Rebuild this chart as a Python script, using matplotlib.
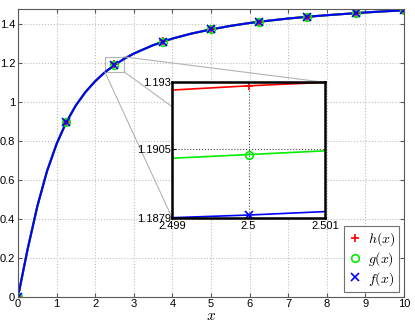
import numpy as np
import matplotlib.pyplot as plt
from matplotlib.patches import Rectangle
from matplotlib.lines import Line2D

plt.rcParams['font.family'] = ['Liberation Sans', 'DejaVu Sans']
plt.rcParams['mathtext.fontset'] = 'cm'

# curve (h, g, f overlap within a pixel)
curve_x = [0, 0.25, 0.5, 0.75, 1, 1.25, 1.5, 1.75, 2, 2.25, 2.5, 2.75, 3, 3.5, 4,
           4.5, 5, 5.5, 6, 6.5, 7, 7.5, 8, 8.5, 9, 9.5, 10]
curve_y = [0, 0.245, 0.464, 0.644, 0.785, 0.896, 0.983, 1.052, 1.107, 1.153, 1.190,
           1.222, 1.249, 1.292, 1.326, 1.352, 1.373, 1.391, 1.406, 1.418, 1.429,
           1.438, 1.446, 1.453, 1.460, 1.466, 1.471]

# markers
mk_x = [0, 1.25, 2.5, 3.75, 5, 6.25, 7.5, 8.75, 10]
h_mk = [0, 0.897, 1.193, 1.311, 1.374, 1.413, 1.439, 1.458, 1.472]
g_mk = [0, 0.896, 1.190, 1.310, 1.373, 1.412, 1.438, 1.457, 1.471]
f_mk = [0, 0.896, 1.188, 1.309, 1.373, 1.412, 1.438, 1.457, 1.471]

# zoomed region
in_x = [2.499, 2.5, 2.501]
h_in = [1.19271, 1.19287, 1.19300]
g_in = [1.19014, 1.19028, 1.19042]
f_in = [1.18790, 1.18800, 1.18813]
in_xticks = [2.499, 2.5, 2.501]
in_yticks = [1.1879, 1.1905, 1.193]

fig = plt.figure(figsize=(4.15, 3.23), dpi=100)
ax = fig.add_axes([0.0434, 0.0814, 0.930, 0.892])

styles = [('r', '+', h_mk, h_in, '$h(x)$'),
          ('#00ee00', 'o', g_mk, g_in, '$g(x)$'),
          ('b', 'x', f_mk, f_in, '$f(x)$')]
MS = 5.5

for c, m, mk, _, lab in styles:
    ax.plot(curve_x, curve_y, color=c, lw=1.5)
for c, m, mk, _, lab in styles:
    ax.plot(mk_x, mk, ls='none', marker=m, color=c, ms=MS, mfc='none', mew=1.2)

ax.set_xlim(0, 10)
ax.set_ylim(0, 1.48)
ax.set_xticks(range(11))
ax.set_yticks([0, 0.2, 0.4, 0.6, 0.8, 1, 1.2, 1.4])
ax.set_yticklabels(['0', '0.2', '0.4', '0.6', '0.8', '1', '1.2', '1.4'])
ax.tick_params(direction='in', top=True, right=True, labelsize=8, length=3,
               color='0.35', pad=2)
for s in ax.spines.values():
    s.set_color('0.35')
ax.grid(True, ls=':', color='0.75', lw=0.8)
ax.set_xlabel('$x$', fontsize=11, labelpad=0)

handles = [Line2D([], [], ls='none', marker=m, color=c, ms=MS, mfc='none', mew=1.2)
           for c, m, _, _, _ in styles]
leg = ax.legend(handles, [s[4] for s in styles], loc='lower right', fontsize=10,
                frameon=True, fancybox=False, borderaxespad=0.35, handletextpad=0.4,
                labelspacing=0.15, handlelength=1.0, borderpad=0.3)
leg.get_frame().set_edgecolor('0.3')
leg.get_frame().set_linewidth(0.8)

# zoom box on main axes
bx0, bx1, by0, by1 = 2.25, 2.75, 1.155, 1.232
ax.add_patch(Rectangle((bx0, by0), bx1 - bx0, by1 - by0, fill=False,
                       ec='0.7', lw=0.8, zorder=1))

inset_pos = [0.4145, 0.326, 0.3687, 0.419]
ins = fig.add_axes(inset_pos)

# connector lines, drawn in figure coords behind inset
def to_fig(x, y):
    return fig.transFigure.inverted().transform(ax.transData.transform((x, y)))

corners_box = [(bx1, by1), (bx1, by0), (bx0, by0)]
corners_in = [(inset_pos[0] + inset_pos[2], inset_pos[1] + inset_pos[3]),
              (inset_pos[0] + inset_pos[2], inset_pos[1]),
              (inset_pos[0], inset_pos[1])]
for (x, y), (fx, fy) in zip(corners_box, corners_in):
    p = to_fig(x, y)
    fig.add_artist(Line2D([p[0], fx], [p[1], fy], color='0.7', lw=0.8, zorder=0.5))

for c, m, _, vin, _ in styles:
    ins.plot(in_x, vin, color=c, lw=1.2, clip_on=False)
    ins.plot(in_x[1], vin[1], ls='none', marker=m, color=c, ms=MS, mfc='none', mew=1.2)
ins.set_xlim(2.499, 2.501)
ins.set_ylim(1.1879, 1.193)
ins.set_xticks(in_xticks)
ins.set_xticklabels(['2.499', '2.5', '2.501'])
ins.set_yticks(in_yticks)
ins.set_yticklabels(['1.1879', '1.1905', '1.193'])
ins.tick_params(axis='x', direction='in', labelsize=8, length=3, pad=2.5)
ins.tick_params(axis='y', direction='in', labelsize=8, length=3, pad=1)
for s in ins.spines.values():
    s.set_linewidth(1.8)
ins.grid(True, ls=':', color='0.3', lw=0.8)
ins.set_zorder(3)

fig.savefig('out.png', dpi=100)
